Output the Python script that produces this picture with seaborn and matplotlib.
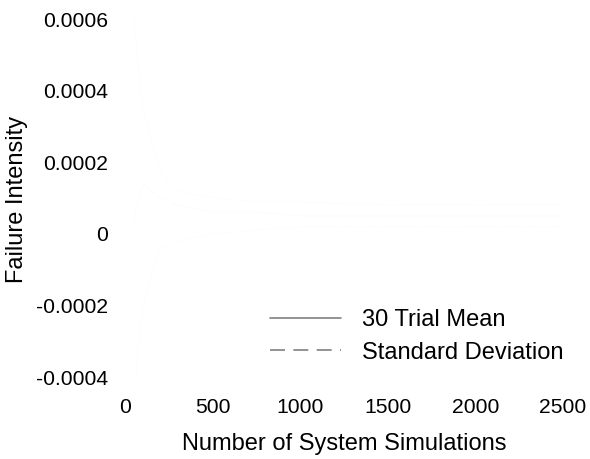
import numpy as np
import pandas as pd
import seaborn as sns
import matplotlib.pyplot as plt
from matplotlib.lines import Line2D

sims = [50, 100, 200, 300, 500, 750, 1000, 1500, 2000, 2500]
trial_mean = [0.00004, 0.00014, 0.00010, 0.00008, 0.00006, 0.00006, 0.00005, 0.00005, 0.00005, 0.00005]
sd_upper = [0.00060, 0.00035, 0.00018, 0.00012, 0.00010, 0.00009, 0.00009, 0.00008, 0.00008, 0.00008]
sd_lower = [-0.00045, -0.00020, -0.00004, -0.00002, 0.0, 0.00001, 0.00002, 0.00002, 0.00002, 0.00002]

x_ticks = [0, 500, 1000, 1500, 2000, 2500]
y_ticks = [-0.0004, -0.0002, 0, 0.0002, 0.0004, 0.0006]
y_tick_labels = ['-0.0004', '-0.0002', '0', '0.0002', '0.0004', '0.0006']

sns.set_theme(style='white')
plt.rcParams['font.family'] = ['Liberation Sans', 'DejaVu Sans']

df = pd.DataFrame({'sims': sims, 'mean': trial_mean, 'upper': sd_upper, 'lower': sd_lower})

fig = plt.figure(figsize=(5.9, 4.59), dpi=100)
ax = fig.add_axes([0.2119, 0.1786, 0.7424, 0.78])

# the traces are almost white in the original
faint = '#fdfdfd'
sns.lineplot(data=df, x='sims', y='mean', color=faint, linewidth=1, ax=ax)
sns.lineplot(data=df, x='sims', y='upper', color=faint, linewidth=1, linestyle='--', ax=ax)
sns.lineplot(data=df, x='sims', y='lower', color=faint, linewidth=1, linestyle='--', ax=ax)

ax.set_xlim(0, 2500)
ax.set_ylim(-0.0004, 0.0006)
ax.set_xticks(x_ticks)
ax.set_xticklabels([str(t) for t in x_ticks])
ax.set_yticks(y_ticks)
ax.set_yticklabels(y_tick_labels)
ax.tick_params(axis='both', length=0, labelsize=15.2, colors='black')
ax.tick_params(axis='y', pad=12)
ax.tick_params(axis='x', pad=15)
for s in ax.spines.values():
    s.set_visible(False)

ax.set_xlabel('Number of System Simulations', fontsize=17, color='black')
ax.set_ylabel('Failure Intensity', fontsize=17, color='black')
ax.yaxis.set_label_coords(-0.222, 0.497)
ax.xaxis.set_label_coords(0.5, -0.155)

handles = [
    Line2D([], [], color='#808080', linewidth=1.2, linestyle='-'),
    Line2D([], [], color='#808080', linewidth=1.2, linestyle=(0, (9, 5))),
]
leg = ax.legend(handles, ['30 Trial Mean', 'Standard Deviation'], loc='upper left',
                bbox_to_anchor=(0.331, 0.19), frameon=False, handlelength=3.0,
                handletextpad=0.9, labelspacing=0.45, fontsize=17,
                borderpad=0, borderaxespad=0)
for t in leg.get_texts():
    t.set_color('black')

fig.savefig('out.png', dpi=100)
